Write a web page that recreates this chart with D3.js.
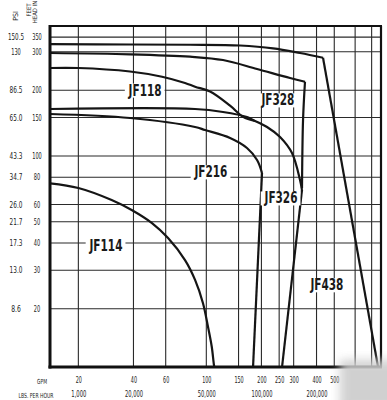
<!DOCTYPE html>
<html><head><meta charset="utf-8">
<script src="https://cdn.jsdelivr.net/npm/d3@7"></script>
<style>
html,body{margin:0;padding:0;background:#fff;}
svg{display:block;}
</style></head>
<body>
<svg id="c" width="387" height="400"></svg>
<script>
// ---- data (GPM, feet of head) ----
const feetTicks = [350,300,200,150,100,80,60,50,40,30,20];
const psiLabels = ["150.5","130","86.5","65.0","43.3","34.7","26.0","21.7","17.3","13.0","8.6"];
const gpmTicks = [20,40,60,100,150,200,250,300,400,500];
const gpmGrid = [20,40,60,100,150,200,250,300,400,500,650,800];
const lbsAt = [20,40,100,200,400];
const lbsLabels = ["1,000","20,000","50,000","100,000","200,000"];

const jf114 = [[14,75],[20,71.4],[30.4,62.9],[39.1,56.6],[50.3,49.4],[61.8,42.1],[76.5,33.4],[86.8,27.1],[95.9,21.2],[102.2,16.5],[107.1,13.4],[110.2,11.0],[110.8,10.82]];
const jf118 = [[14,252.8],[20,252.8],[38.3,243.6],[57.3,230.6],[76.5,215.9],[86.8,207.6],[104.8,197.3],[134.8,170],[158.7,151.3],[184.5,144.6]];
const jf216 = [[14,155.7],[38.3,149.3],[86.8,135.8],[98.4,131.5],[134.8,120.9],[166.8,108.8],[189.3,95.9],[201.5,83.6]];
const jf216Tail = [[201.5,83.6],[180,10.82]];
const jf326 = [[14,164.1],[86.8,164.1],[123.4,159],[166.8,150.8],[180,146.2],[214.6,135.8],[252.8,122.2],[293.8,103.2],[325,77.6],[333.2,69.9]];
const jf326Tail = [[333.2,69.9],[259.2,10.82]];
const jf328 = [[14,296.1],[38.3,292.1],[81.5,284.8],[123.4,275],[189.3,250.1],[286.6,227.5],[346,218.8]];
const jf328Tail = [[346,218.8],[337.6,146.2],[333.2,71.4]];
const jf438 = [[14,325.5],[38.3,323.8],[81.5,323.1],[152.8,320.4],[231.4,311.1],[325,296.1],[434,281.8]];
const jf438Tail = [[434,281.8],[867,10.82]];

const curveNames = ["JF118","JF328","JF216","JF326","JF438","JF114"];
const curveLabelAt = [[46.3,200],[246,180.4],[106,84.5],[255.8,64.2],[456,25.7],[28.3,38.7]];

// ---- scales ----
const svg = d3.select("#c");
const pL=50, pR=381, pT=26, pB=367;
const x = d3.scaleLog().domain([14,900]).range([pL,pR]);
const y = d3.scaleLog().domain([10.82,393.6]).range([pB,pT]);

const FONT = "'DejaVu Sans Condensed','Liberation Sans Narrow','Arial Narrow',sans-serif";

svg.append("defs").html(`
<clipPath id="plot"><rect x="${pL}" y="${pT}" width="${pR-pL}" height="${pB-pT}"/></clipPath>
<filter id="blur" x="-50%" y="-50%" width="200%" height="200%"><feGaussianBlur stdDeviation="5"/></filter>`);

const g = svg.append("g");

// grid
g.append("g").selectAll("line").data(feetTicks).join("line")
  .attr("x1",pL).attr("x2",pR)
  .attr("y1",d=>y(d)).attr("y2",d=>y(d))
  .attr("stroke","#2a2a2a").attr("stroke-width",1.1);
g.append("g").selectAll("line").data(gpmGrid).join("line")
  .attr("y1",pT).attr("y2",pB)
  .attr("x1",d=>x(d)).attr("x2",d=>x(d))
  .attr("stroke","#2a2a2a").attr("stroke-width",1.1);

// curves
const line = d3.line().x(d=>x(d[0])).y(d=>y(d[1])).curve(d3.curveCatmullRom.alpha(0.5));
const series = [jf114,jf118,jf216,jf216Tail,jf326,jf326Tail,jf328,jf328Tail,jf438,jf438Tail];
const cg = g.append("g").attr("clip-path","url(#plot)");
cg.selectAll("path").data(series).join("path")
  .attr("d",line).attr("fill","none")
  .attr("stroke","#151515").attr("stroke-width",2.2)
  .attr("stroke-linejoin","round");

// curve labels
const lg = g.append("g");
curveNames.forEach((name,i)=>{
  const p = curveLabelAt[i];
  const t = lg.append("text").attr("x",x(p[0])).attr("y",y(p[1]))
    .attr("text-anchor","middle").attr("dy","0.36em")
    .attr("font-family",FONT).attr("font-weight","bold").attr("font-size",15)
    .attr("textLength",33).attr("lengthAdjust","spacingAndGlyphs")
    .attr("fill","#1a1a1a").text(name);
  const bb = t.node().getBBox();
  lg.insert("rect","text").attr("x",bb.x-3).attr("y",bb.y+2).attr("width",bb.width+6).attr("height",bb.height-4).attr("fill","#fff");
});
lg.selectAll("text").raise();

// frame
g.append("line").attr("x1",pL).attr("x2",pL).attr("y1",pT-1).attr("y2",pB+1.5).attr("stroke","#111").attr("stroke-width",3);
g.append("line").attr("x1",pL-1.5).attr("x2",pR+1).attr("y1",pB).attr("y2",pB).attr("stroke","#111").attr("stroke-width",3);
g.append("line").attr("x1",pL).attr("x2",pR+1).attr("y1",pT).attr("y2",pT).attr("stroke","#111").attr("stroke-width",2.2);
g.append("line").attr("x1",pR).attr("x2",pR).attr("y1",pT).attr("y2",pB).attr("stroke","#111").attr("stroke-width",2.2);

// axes
function styleAxis(sel, perChar){
  sel.select(".domain").remove();
  sel.selectAll(".tick line").remove();
  sel.selectAll("text").attr("font-family",FONT).attr("font-size",8).attr("fill","#222")
    .attr("lengthAdjust","spacingAndGlyphs")
    .attr("textLength",function(){ return this.textContent.length*perChar; });
}
const feetAx = svg.append("g").attr("transform","translate(37,0)")
  .call(d3.axisLeft(y).tickValues(feetTicks).tickFormat(d3.format("d")).tickSize(0).tickPadding(0));
styleAxis(feetAx, 3.2);
feetAx.selectAll("text").attr("text-anchor","middle").attr("x",0);

const psiAx = svg.append("g").attr("transform","translate(16,0)")
  .call(d3.axisLeft(y).tickValues(feetTicks).tickFormat((d,i)=>psiLabels[i]).tickSize(0).tickPadding(0));
styleAxis(psiAx, 3.2);
psiAx.selectAll("text").attr("text-anchor","middle").attr("x",0);

const gpmAx = svg.append("g").attr("transform","translate(0,377)")
  .call(d3.axisBottom(x).tickValues(gpmTicks).tickFormat(d3.format("d")).tickSize(0).tickPadding(0));
styleAxis(gpmAx, 3.1);

const lbsAx = svg.append("g").attr("transform","translate(0,391)")
  .call(d3.axisBottom(x).tickValues(lbsAt).tickFormat((d,i)=>lbsLabels[i]).tickSize(0).tickPadding(0));
styleAxis(lbsAx, 3.0);

// axis titles
svg.append("text").attr("x",42).attr("y",384).attr("text-anchor","middle")
  .attr("font-family",FONT).attr("font-size",7).attr("fill","#222")
  .attr("textLength",10).attr("lengthAdjust","spacingAndGlyphs").text("GPM");
svg.append("text").attr("x",36).attr("y",398).attr("text-anchor","middle")
  .attr("font-family",FONT).attr("font-size",7).attr("fill","#222")
  .attr("textLength",35).attr("lengthAdjust","spacingAndGlyphs").text("LBS. PER HOUR");
svg.append("text").attr("transform","translate(17.5,16) rotate(-90)").attr("text-anchor","middle")
  .attr("font-family",FONT).attr("font-size",7).attr("fill","#222").text("PSI");
svg.append("text").attr("transform","translate(30.5,10) rotate(-90)").attr("text-anchor","middle")
  .attr("font-family",FONT).attr("font-size",6).attr("fill","#222").text("FEET");
svg.append("text").attr("transform","translate(36.5,12) rotate(-90)").attr("text-anchor","middle")
  .attr("font-family",FONT).attr("font-size",6).attr("fill","#222").text("HEAD IN");

// watermark smudge
svg.append("rect").attr("x",340).attr("y",360).attr("width",60).attr("height",50)
  .attr("fill","#cccccc").attr("filter","url(#blur)").attr("opacity",0.9);
</script>
</body></html>
